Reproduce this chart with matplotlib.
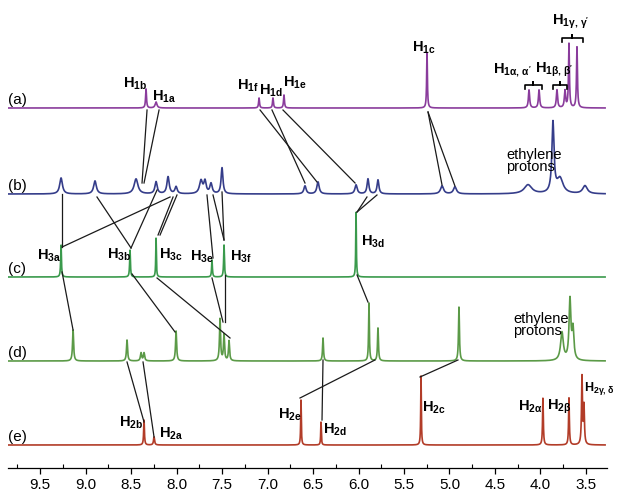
import matplotlib
matplotlib.use("Agg")
import matplotlib.pyplot as plt
import numpy as np

plt.rcParams['font.family'] = ['Liberation Sans', 'DejaVu Sans']
plt.rcParams['mathtext.fontset'] = 'custom'
plt.rcParams['mathtext.rm'] = 'Liberation Sans'
plt.rcParams['mathtext.bf'] = 'Liberation Sans:bold'
plt.rcParams['mathtext.it'] = 'Liberation Sans:italic'

# ---- spectra: peak position (ppm), height, half width (ppm) ----
names = ['(a)', '(b)', '(c)', '(d)', '(e)']
colors = ['#8a3c9c', '#353d8a', '#3a9a4c', '#5b9a47', '#b23c28']
offsets = [360, 274, 191, 107, 23]

peaks_a = [(8.335, 19, 0.006), (8.225, 6, 0.012), (7.093, 10, 0.006), (6.940, 10, 0.006),
           (6.819, 13, 0.006), (5.247, 55, 0.005), (4.126, 18, 0.008), (4.016, 18, 0.008),
           (3.819, 18, 0.008), (3.731, 17, 0.008), (3.687, 64, 0.006), (3.599, 61, 0.006)]
peaks_b = [(9.269, 16, 0.018), (8.896, 13, 0.018), (8.445, 15, 0.025), (8.225, 12, 0.015),
           (8.093, 17, 0.015), (8.005, 7, 0.015), (7.731, 13, 0.02), (7.687, 12, 0.015),
           (7.621, 10, 0.015), (7.500, 26, 0.012), (6.588, 8, 0.015), (6.445, 12, 0.015),
           (6.027, 9, 0.015), (5.896, 15, 0.012), (5.786, 14, 0.012), (5.082, 8, 0.02),
           (4.940, 7, 0.02), (4.137, 9, 0.05), (3.863, 70, 0.014), (3.786, 15, 0.04),
           (3.511, 8, 0.03)]
peaks_c = [(9.269, 32, 0.005), (8.511, 27, 0.005), (8.225, 39, 0.004), (7.610, 17, 0.005),
           (7.478, 32, 0.005), (6.027, 65, 0.004)]
peaks_d = [(9.137, 31, 0.007), (8.544, 21, 0.007), (8.390, 8, 0.008), (8.357, 8, 0.008),
           (8.005, 30, 0.007), (7.522, 42, 0.007), (7.478, 26, 0.007), (7.423, 20, 0.007),
           (6.390, 23, 0.006), (5.885, 58, 0.005), (5.786, 33, 0.006), (4.896, 54, 0.006),
           (3.764, 28, 0.018), (3.676, 60, 0.012), (3.643, 30, 0.012)]
peaks_e = [(8.357, 25, 0.005), (8.247, 8, 0.007), (6.632, 45, 0.004), (6.412, 23, 0.004),
           (5.313, 69, 0.004), (3.973, 47, 0.005), (3.687, 47, 0.005), (3.544, 68, 0.006),
           (3.522, 38, 0.006)]
all_peaks = [peaks_a, peaks_b, peaks_c, peaks_d, peaks_e]

# ---- peak labels: text, left ppm, y above axis, size ----
labels = [
    (r'$\mathbf{H_{1b}}$', 8.588, 384, 10.5), (r'$\mathbf{H_{1a}}$', 8.269, 371, 10.5),
    (r'$\mathbf{H_{1f}}$', 7.335, 382, 10.5), (r'$\mathbf{H_{1d}}$', 7.093, 377, 10.5),
    (r'$\mathbf{H_{1e}}$', 6.830, 385, 10.5), (r'$\mathbf{H_{1c}}$', 5.412, 420, 10.5),
    (r"$\mathbf{H_{1α,\,α'}}$", 4.522, 398, 10.5), (r"$\mathbf{H_{1β,\,β'}}$", 4.060, 398, 10.5),
    (r"$\mathbf{H_{1γ,\,γ'}}$", 3.874, 446, 10.5),
    (r'$\mathbf{H_{3a}}$', 9.533, 212, 10.5), (r'$\mathbf{H_{3b}}$', 8.764, 213, 10.5),
    (r'$\mathbf{H_{3c}}$', 8.192, 213, 10.5), (r'$\mathbf{H_{3e}}$', 7.852, 211, 10.5),
    (r'$\mathbf{H_{3f}}$', 7.412, 211, 10.5), (r'$\mathbf{H_{3d}}$', 5.973, 226, 10.5),
    (r'$\mathbf{H_{2b}}$', 8.632, 45, 10.5), (r'$\mathbf{H_{2a}}$', 8.192, 34, 10.5),
    (r'$\mathbf{H_{2e}}$', 6.885, 53, 10.5), (r'$\mathbf{H_{2d}}$', 6.390, 38, 10.5),
    (r'$\mathbf{H_{2c}}$', 5.302, 60, 10.5), (r'$\mathbf{H_{2α}}$', 4.247, 61, 10.5),
    (r'$\mathbf{H_{2β}}$', 3.929, 61, 10.5), (r'$\mathbf{H_{2γ,\,δ}}$', 3.522, 80, 9),
]
ethylene_labels = [(4.379, 307), (4.302, 143)]

# brackets over spectrum (a): ppm left, ppm right, y
brackets = [(4.170, 3.984, 383), (3.863, 3.709, 383), (3.764, 3.533, 430)]

# correlation lines: (spec from, ppm, height above baseline, spec to, ppm, height)
links = [
    (0, 8.324, -2, 1, 8.379, 11), (0, 8.192, -2, 1, 8.357, 11),
    (0, 7.082, -2, 1, 6.456, 12), (0, 6.951, -2, 1, 6.588, 11),
    (0, 6.830, -2, 1, 6.038, 11), (0, 5.236, -4, 1, 5.082, 9),
    (0, 5.236, -4, 1, 4.940, 8),
    (1, 9.258, 0, 2, 9.258, 30), (1, 8.874, -3, 2, 8.500, 29),
    (1, 8.214, 4, 2, 8.500, 29), (1, 8.071, -3, 2, 9.258, 30),
    (1, 8.038, -3, 2, 8.203, 42), (1, 7.995, -1, 2, 8.181, 42),
    (1, 7.665, -1, 2, 7.599, 19), (1, 7.599, -1, 2, 7.478, 37),
    (1, 7.500, 2, 2, 7.478, 37), (1, 5.907, -3, 2, 6.016, 65),
    (1, 5.797, -1, 2, 6.016, 65),
    (2, 9.258, 5, 3, 9.137, 31), (2, 8.489, 3, 3, 8.016, 29),
    (2, 8.214, -1, 3, 7.412, 23), (2, 7.610, -1, 3, 7.489, 39),
    (2, 7.467, 2, 3, 7.467, 39), (2, 6.016, 2, 3, 5.896, 59),
    (3, 8.544, -1, 4, 8.357, 23), (3, 8.368, -1, 4, 8.247, 8),
    (3, 5.819, 1, 4, 6.643, 47), (3, 6.390, 1, 4, 6.401, 25),
    (3, 4.907, 1, 4, 5.324, 68),
]

x_left, x_right = 9.852, 3.269
ppm = np.linspace(x_left, 3.29, 8000)

fig = plt.figure(figsize=(6.18, 4.93), dpi=100)
ax = fig.add_axes([8 / 618, 1 - 468 / 493, 599 / 618, 468 / 493])

for peaks, off, col in zip(all_peaks, offsets, colors):
    y = np.zeros_like(ppm)
    for p0, h, w in peaks:
        y += h / (1 + ((ppm - p0) / w) ** 2)
    ax.plot(ppm, y + off, color=col, lw=1.2)

for s1, p1, h1, s2, p2, h2 in links:
    ax.plot([p1, p2], [offsets[s1] + h1, offsets[s2] + h2], color='#1a1a1a', lw=0.9)

for name, off in zip(names, offsets):
    ax.text(x_left, off + 8, name, fontsize=11, ha='left', va='center')

for txt, xp, yp, fs in labels:
    ax.text(xp, yp, txt, fontsize=fs, ha='left', va='center', clip_on=False)

for xp, yp in ethylene_labels:
    ax.text(xp, yp, 'ethylene\nprotons', fontsize=10.5, ha='left', va='center',
            linespacing=0.9)

for b0, b1, by in brackets:
    bm = (b0 + b1) / 2
    ax.plot([b0, b0, bm, bm, bm, b1, b1], [by - 4, by, by, by + 3, by, by, by - 4],
            color='black', lw=1.2)

ax.set_xlim(x_left, x_right)
ax.set_ylim(0, 468)
for sp in ['top', 'left', 'right']:
    ax.spines[sp].set_visible(False)
ax.spines['bottom'].set_linewidth(0.9)
ax.set_yticks([])
ax.set_xticks([9.5, 9.0, 8.5, 8.0, 7.5, 7.0, 6.5, 6.0, 5.5, 5.0, 4.5, 4.0, 3.5])
ax.set_xticks(np.arange(9.75, 3.3, -0.25), minor=True)
ax.tick_params(axis='x', which='major', direction='out', length=4, width=0.9,
               labelsize=11, pad=3)
ax.tick_params(axis='x', which='minor', direction='in', length=3, width=0.8)

fig.savefig('out.png', dpi=100)
